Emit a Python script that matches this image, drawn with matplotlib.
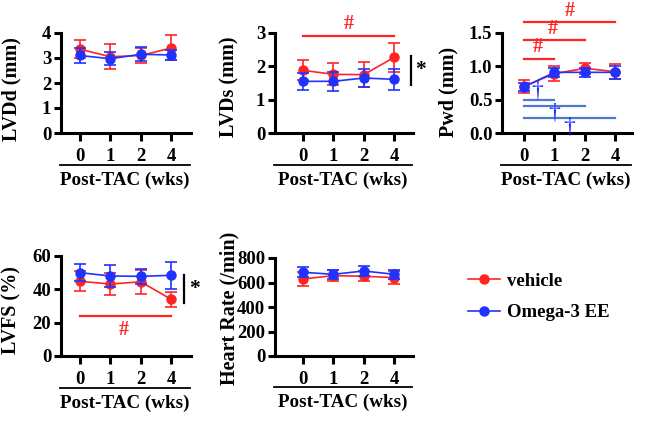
import matplotlib
matplotlib.use("Agg")
import matplotlib.pyplot as plt
from matplotlib.lines import Line2D
import numpy as np

plt.rcParams['font.family'] = ['Liberation Serif', 'DejaVu Serif']
plt.rcParams['font.weight'] = 'bold'

weeks = ['0', '1', '2', '4']
RED = '#ff2424'
BLUE = '#1f32ff'
SIGBLUE = '#4a7ad2'

# LVDd
lvdd_veh = [3.35, 3.05, 3.1, 3.4]
lvdd_veh_err = [0.35, 0.5, 0.3, 0.5]
lvdd_omg = [3.1, 2.97, 3.15, 3.12]
lvdd_omg_err = [0.3, 0.25, 0.28, 0.2]
# LVDs
lvds_veh = [1.88, 1.76, 1.75, 2.27]
lvds_veh_err = [0.3, 0.33, 0.37, 0.43]
lvds_omg = [1.55, 1.55, 1.65, 1.61]
lvds_omg_err = [0.26, 0.28, 0.27, 0.32]
# Pwd
pwd_veh = [0.70, 0.89, 0.97, 0.92]
pwd_veh_err = [0.1, 0.11, 0.08, 0.11]
pwd_omg = [0.69, 0.91, 0.91, 0.91]
pwd_omg_err = [0.06, 0.07, 0.07, 0.1]
# LVFS
lvfs_veh = [44.8, 43.2, 44.5, 34.0]
lvfs_veh_err = [6.0, 6.5, 7.0, 4.5]
lvfs_omg = [50.0, 48.0, 47.8, 48.4]
lvfs_omg_err = [5.0, 6.5, 4.5, 8.0]
# Heart rate
hr_veh = [629, 656, 651, 640]
hr_veh_err = [55, 45, 40, 55]
hr_omg = [683, 667, 694, 667]
hr_omg_err = [40, 35, 40, 35]

W, H = 646, 421
fig = plt.figure(figsize=(W / 100, H / 100), dpi=100)

FS = 13.5
LFS = 14.5
XLFS = 13.7

def make_ax(left, right, top, bottom, x0):
    ax = fig.add_axes([left / W, 1 - bottom / H, (right - left) / W, (bottom - top) / H])
    sp = 30.4
    ax.set_xlim((left - x0) / sp, (right - x0) / sp)
    for s in ['top', 'right']:
        ax.spines[s].set_visible(False)
    for s in ['left', 'bottom']:
        ax.spines[s].set_linewidth(2.2)
    ax.tick_params(axis='both', width=2.2, length=5, labelsize=FS, pad=2)
    ax.tick_params(axis='x', length=6, pad=5)
    ax.set_xticks(range(4))
    ax.set_xticklabels(weeks, fontweight='bold')
    for lab in ax.get_yticklabels():
        lab.set_fontweight('bold')
    # underline and x-label
    ax.add_line(Line2D([-0.01, 0.99], [-0.32, -0.32], transform=ax.transAxes,
                       color='black', lw=1.3, clip_on=False))
    ax.text(0.49, -0.47, 'Post-TAC (wks)', transform=ax.transAxes, ha='center',
            va='center', fontsize=XLFS, fontweight='bold')
    return ax

def plot_series(ax, veh, veh_err, omg, omg_err):
    x = np.arange(len(weeks))
    ax.errorbar(x, veh, yerr=veh_err, color=RED, marker='o', ms=6.5, lw=1.2,
                capsize=4, elinewidth=1.2, capthick=1.2, clip_on=False, zorder=3)
    ax.errorbar(x, omg, yerr=omg_err, color=BLUE, marker='o', ms=6.5, lw=1.2,
                capsize=4, elinewidth=1.2, capthick=1.2, clip_on=False, zorder=4)

def ylab(x, y, s):
    fig.text(x / W, 1 - y / H, s, rotation=90, ha='center', va='center',
             fontsize=LFS, fontweight='bold')

# Panel 1: LVDd
ax1 = make_ax(61, 191, 33, 133, 80)
plot_series(ax1, lvdd_veh, lvdd_veh_err, lvdd_omg, lvdd_omg_err)
ax1.set_ylim(0, 4)
ax1.set_yticks([0, 1, 2, 3, 4])
ylab(11, 89, 'LVDd (mm)')

# Panel 2: LVDs
ax2 = make_ax(275, 413, 33, 133, 303)
plot_series(ax2, lvds_veh, lvds_veh_err, lvds_omg, lvds_omg_err)
ax2.set_ylim(0, 3)
ax2.set_yticks([0, 1, 2, 3])
ax2.plot([0, 3], [2.9, 2.9], color=RED, lw=1.6, clip_on=False)
ax2.text(1.5, 2.97, '#', color=RED, ha='center', va='bottom', fontsize=FS + 1)
ax2.plot([3.55, 3.55], [1.45, 2.3], color='black', lw=1.6, clip_on=False)
ax2.text(3.88, 1.88, '*', color='black', ha='center', va='center', fontsize=FS + 2)
ylab(229, 87, 'LVDs (mm)')

# Panel 3: Pwd
ax3 = make_ax(502, 632, 33, 133, 524)
plot_series(ax3, pwd_veh, pwd_veh_err, pwd_omg, pwd_omg_err)
ax3.set_ylim(0, 1.5)
ax3.set_yticks([0, 0.5, 1.0, 1.5])
ax3.set_yticklabels(['0.0', '0.5', '1.0', '1.5'], fontweight='bold')
for x1, yv, xt in [(1, 1.115, 0.45), (2, 1.39, 0.95), (3, 1.66, 1.5)]:
    ax3.plot([0, x1], [yv, yv], color=RED, lw=1.6, clip_on=False)
    ax3.text(xt, yv + 0.02, '#', color=RED, ha='center', va='bottom', fontsize=FS + 1)
for x1, yv in [(1, 0.49), (2, 0.41), (3, 0.22)]:
    ax3.plot([0, x1], [yv, yv], color=SIGBLUE, lw=1.6, clip_on=False)
for xd, yd in [(0.45, 0.63), (1.0, 0.30), (1.5, 0.09)]:
    ax3.text(xd, yd, '†', color=BLUE, ha='center', va='center', fontsize=17,
             fontweight='normal', clip_on=False)
ylab(448, 92, 'Pwd (mm)')

# Panel 4: LVFS
ax4 = make_ax(61, 191, 256, 356, 80)
plot_series(ax4, lvfs_veh, lvfs_veh_err, lvfs_omg, lvfs_omg_err)
ax4.set_ylim(0, 60)
ax4.set_yticks([0, 20, 40, 60])
ax4.plot([0, 3], [23.9, 23.9], color=RED, lw=1.6, clip_on=False)
ax4.text(1.45, 15.5, '#', color=RED, ha='center', va='center', fontsize=FS + 1)
ax4.plot([3.42, 3.42], [32, 48.6], color='black', lw=1.6, clip_on=False)
ax4.text(3.75, 40, '*', color='black', ha='center', va='center', fontsize=FS + 2)
ylab(11, 310, 'LVFS (%)')

# Panel 5: Heart Rate
ax5 = make_ax(275, 413, 258, 356, 303)
plot_series(ax5, hr_veh, hr_veh_err, hr_omg, hr_omg_err)
ax5.set_ylim(0, 800)
ax5.set_yticks([0, 200, 400, 600, 800])
ylab(229, 308, 'Heart Rate (/min)')

# Legend
handles = [Line2D([], [], color=RED, marker='o', ms=6.5, lw=1.2),
           Line2D([], [], color=BLUE, marker='o', ms=6.5, lw=1.2)]
fig.legend(handles, ['vehicle', 'Omega-3 EE'], loc='center left',
           bbox_to_anchor=(451 / W, 1 - 297 / H), frameon=False,
           prop={'size': FS, 'weight': 'bold'}, handlelength=1.7,
           handletextpad=0.4, labelspacing=0.75)

fig.savefig('out.png', dpi=100)
